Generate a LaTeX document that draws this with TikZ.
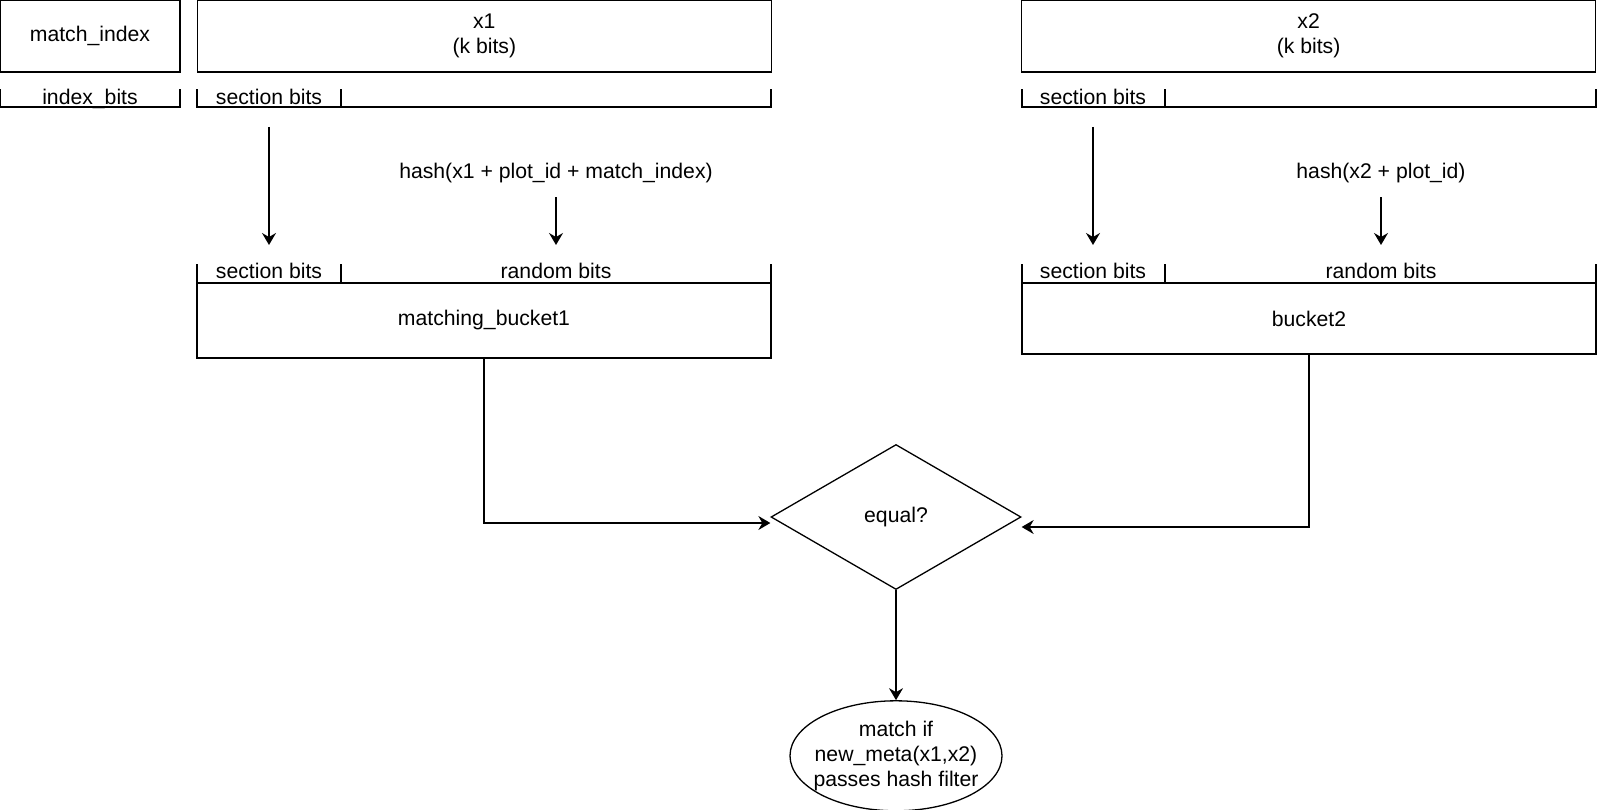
\documentclass[tikz,border=0pt]{standalone}
\usepackage{fontspec}
\setmainfont{Liberation Sans}
\usetikzlibrary{shapes.geometric,arrows.meta,positioning}

\begin{document}
\begin{tikzpicture}[
  x=0.5pt, y=-0.5pt,
  font=\fontsize{10.6pt}{12.5pt}\selectfont,
  line width=0.65pt,
  box/.style={draw, minimum width=287pt, align=center, inner sep=0pt},
  field/.style={inner sep=0pt, anchor=base},
  decision/.style={draw, diamond, minimum width=125pt, minimum height=72.5pt, inner sep=0pt},
  terminal/.style={draw, ellipse, minimum width=106pt, minimum height=55pt, align=center, inner sep=-8pt},
  arrow/.style={-{Stealth[length=6pt,width=7pt,inset=2pt]}, line width=0.65pt}
]
\useasboundingbox (0,0) rectangle (1600,809);

\node[box, minimum width=90pt, minimum height=36pt] (idx) at (90,36) {match\_index};
\node[box, minimum height=36pt, right=8pt of idx] (x1) {x1\\(k bits)};
\node[box, minimum height=36pt, right=124.5pt of x1] (x2) {x2\\(k bits)};

% bit fields under the inputs
\draw (0,89) -- (0,107) -- (180,107) -- (180,89);
\draw (197,89) -- (197,107) -- (771,107) -- (771,89) (341,89) -- (341,107);
\draw (1022,89) -- (1022,107) -- (1596,107) -- (1596,89) (1165,89) -- (1165,107);
\node[field] (ibits) at (90,104) {index\_bits};
\node[field] (sec1) at (269,104) {section bits};
\node[field] (sec2) at (1093,104) {section bits};

\node[field] (hash1) at (556,178) {hash(x1 + plot\_id + match\_index)};
\node[field] (hash2) at (1381,178) {hash(x2 + plot\_id)};

% bit fields of the buckets
\node[box, minimum height=37.5pt] (bucket1) at (484,320.5) {matching\_bucket1};
\node[box, minimum height=35.5pt] (bucket2) at (1309,318.5) {bucket2};
\draw (197,264) -- (197,283) (341,264) -- (341,283) (771,264) -- (771,283);
\draw (1022,264) -- (1022,283) (1165,264) -- (1165,283) (1596,264) -- (1596,283);
\node[field] (sec1b) at (269,278) {section bits};
\node[field] (rnd1) at (556,278) {random bits};
\node[field] (sec2b) at (1093,278) {section bits};
\node[field] (rnd2) at (1381,278) {random bits};

\draw[arrow, shorten <=11pt, shorten >=8.5pt] (sec1) -- (sec1b);
\draw[arrow, shorten <=7pt, shorten >=8.5pt] (hash1) -- (rnd1);
\draw[arrow, shorten <=11pt, shorten >=8.5pt] (sec2) -- (sec2b);
\draw[arrow, shorten <=7pt, shorten >=8.5pt] (hash2) -- (rnd2);

\node[decision] (eq) at (896,517) {equal?};
\node[terminal, below=55pt of eq] (res) {match if\\new\_meta(x1,x2)\\passes hash filter};

\draw[arrow] (bucket1.south) |- ([yshift=-3pt]eq.west);
\draw[arrow] (bucket2.south) |- ([yshift=-5pt]eq.east);
\draw[arrow] (eq) -- (res);
\end{tikzpicture}
\end{document}
